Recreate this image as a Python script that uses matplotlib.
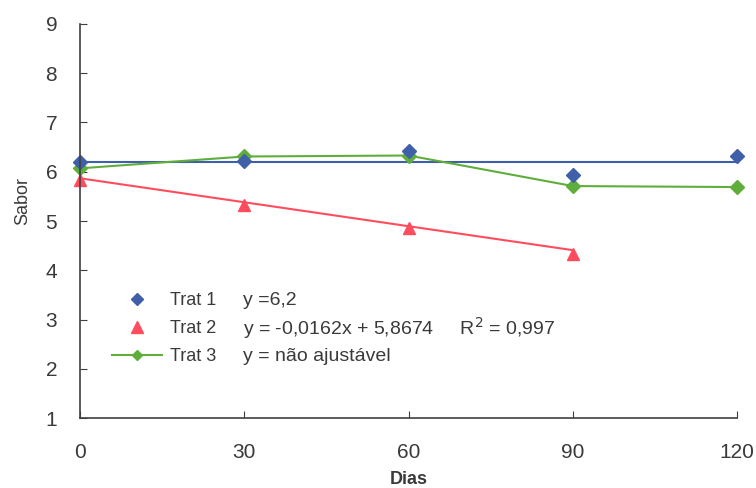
import matplotlib.pyplot as plt
import numpy as np
from matplotlib.lines import Line2D

plt.rcParams['font.family'] = ['Liberation Sans', 'DejaVu Sans']

dias = [0, 30, 60, 90, 120]
trat1 = [6.19, 6.22, 6.42, 5.93, 6.32]
trat2_dias = [0, 30, 60, 90]
trat2 = [5.84, 5.32, 4.85, 4.34]
trat3 = [6.07, 6.31, 6.33, 5.71, 5.69]

trat1_fit = 6.2
trat2_a, trat2_b = -0.0162, 5.8674

blue = '#3f5fa8'
red = '#ff4d5e'
green = '#5fae3c'
grey = '#404040'
txt = '#3a3a3a'

fig = plt.figure(figsize=(7.56, 4.88), dpi=100)
ax = fig.add_axes([0.106, 0.143, 0.869, 0.808])

# trend lines
ax.plot([dias[0], dias[-1]], [trat1_fit, trat1_fit], color=blue, lw=1.5)
x2 = np.array([trat2_dias[0], trat2_dias[-1]])
ax.plot(x2, trat2_a * x2 + trat2_b, color=red, lw=1.5)

ax.plot(dias, trat3, color=green, lw=1.5, marker='D', ms=7, mec=green, mfc=green,
        clip_on=False)
ax.plot(dias, trat1, ls='none', marker='D', ms=7, color=blue, clip_on=False)
ax.plot(trat2_dias, trat2, ls='none', marker='^', ms=9, color=red, clip_on=False)

ax.set_xlim(0, 120)
ax.set_ylim(1, 9)
ax.set_xticks(dias)
ax.set_yticks(range(1, 10))
for s in ['top', 'right']:
    ax.spines[s].set_visible(False)
for s in ['left', 'bottom']:
    ax.spines[s].set_color(grey)
    ax.spines[s].set_linewidth(1.2)
ax.tick_params(direction='in', length=5, color=grey, labelsize=15, labelcolor=txt)
ax.tick_params(axis='y', pad=16.5)
ax.tick_params(axis='x', pad=18)

ax.set_xlabel('Dias', fontsize=13, fontweight='bold', color=txt)
ax.xaxis.set_label_coords(0.5, -0.135)
ax.set_ylabel('Sabor', fontsize=13, color=txt)
ax.yaxis.set_label_coords(-0.075, 0.55)

handles = [
    Line2D([], [], ls='none', marker='D', ms=6, color=blue),
    Line2D([], [], ls='none', marker='^', ms=8, color=red),
    Line2D([], [], color=green, lw=1.5, marker='D', ms=5),
]
ax.legend(handles, ['Trat 1', 'Trat 2', 'Trat 3'], loc='upper left',
          bbox_to_anchor=(0.034, 0.343), frameon=False, fontsize=13, borderpad=0,
          handlelength=2.77, labelspacing=0.62, handletextpad=0.45,
          labelcolor=txt)

eqs = ['y =6,2', 'y = -0,0162x + 5,8674     R$^2$ = 0,997', 'y = não ajustável']
eq_y = [0.298, 0.228, 0.157]
for t, yy in zip(eqs, eq_y):
    ax.text(0.248, yy, t, transform=ax.transAxes, fontsize=14,
            color=txt, va='center')

fig.savefig('out.png', dpi=100)
